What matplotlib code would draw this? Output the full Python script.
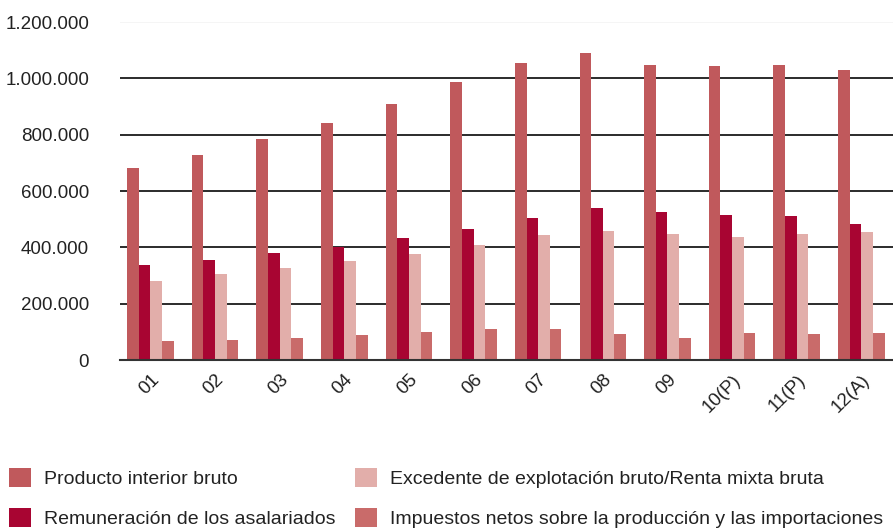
import matplotlib.pyplot as plt
import numpy as np
from matplotlib.patches import Patch
from matplotlib.ticker import FuncFormatter

plt.rcParams['font.family'] = ['Liberation Sans', 'DejaVu Sans']

years = ['01', '02', '03', '04', '05', '06', '07', '08', '09', '10(P)', '11(P)', '12(A)']
pib = [681000, 729000, 784000, 843000, 910000, 987000, 1054000, 1089000, 1049000, 1046000, 1049000, 1031000]
remuneracion = [337000, 357000, 379000, 402000, 433000, 467000, 505000, 539000, 526000, 517000, 513000, 484000]
excedente = [280000, 304000, 326000, 352000, 377000, 409000, 443000, 459000, 447000, 437000, 447000, 454000]
impuestos = [67000, 71000, 79000, 89000, 100000, 112000, 109000, 92000, 78000, 95000, 91000, 95000]

labels = ['Producto interior bruto', 'Remuneración de los asalariados',
          'Excedente de explotación bruto/Renta mixta bruta',
          'Impuestos netos sobre la producción y las importaciones']
colors = ['#c0595c', '#a80532', '#e2aeaa', '#c96b6a']
series = [pib, remuneracion, excedente, impuestos]

fig = plt.figure(figsize=(8.93, 5.28), dpi=100)
ax = fig.add_axes([0.134, 0.318, 0.866, 0.64])

x = np.arange(len(years))
w = 0.18
for i, (vals, c) in enumerate(zip(series, colors)):
    ax.bar(x + (i - 1.5) * w, vals, w, color=c, zorder=3)

ax.set_xlim(-0.475, 11.49)
ax.set_ylim(0, 1200000)
ax.set_yticks(np.arange(0, 1200001, 200000))
ax.yaxis.set_major_formatter(FuncFormatter(lambda v, p: f"{int(v):,}".replace(",", ".")))
ax.grid(axis='y', color='#1a1a1a', linewidth=1.3, zorder=1)
ax.get_ygridlines()[-1].set_color('#f4f4f4')
for s in ['left', 'right', 'top']:
    ax.spines[s].set_visible(False)
ax.spines['bottom'].set_color('#333333')
ax.spines['bottom'].set_linewidth(1.5)
ax.spines['bottom'].set_zorder(4)

ax.set_xticks(x)
ax.set_xticklabels(years, rotation=45, ha='right', rotation_mode='anchor')
ax.tick_params(axis='both', length=0, labelsize=13.5, colors='#222222')
ax.tick_params(axis='y', pad=22)
ax.tick_params(axis='x', pad=8)

handles = [Patch(facecolor=c, label=l) for c, l in zip(colors, labels)]
fig.legend(handles=handles, ncol=2, loc='lower left', bbox_to_anchor=(0.01, 0.0),
           frameon=False, fontsize=14, handlelength=1.15, handleheight=1.15,
           handletextpad=0.65, columnspacing=1.0, labelspacing=1.0,
           borderpad=0, borderaxespad=0, labelcolor='#222222')

fig.savefig('out.png', dpi=100)
